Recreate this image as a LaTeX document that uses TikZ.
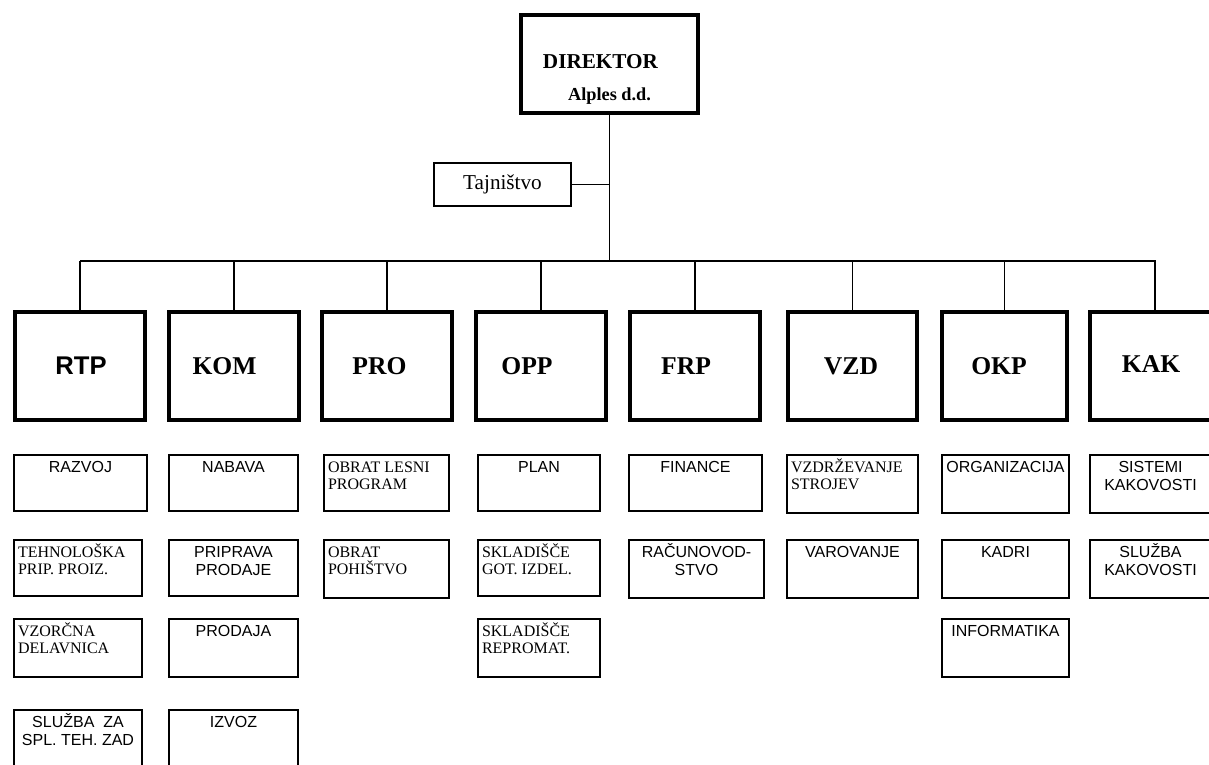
\documentclass[tikz,border=0pt]{standalone}
\usepackage{fontspec}
\setmainfont{Liberation Serif}
\setsansfont{Liberation Sans}
\newcommand{\lsans}{\sffamily\fontsize{16}{18.3}\selectfont\centering}
\newcommand{\lserif}{\rmfamily\fontsize{16}{17.7}\selectfont\raggedright\leftskip=4pt\relax}
\newcommand{\enota}[7]{%
  \node[enota] (#1) at (#2,#3)
    {\parbox[t][#5pt][t]{#4pt}{#6\rule{0pt}{17pt}#7}};}

\begin{document}
\begin{tikzpicture}[
    x = 1pt,
    y = -1pt,
    vodja/.style = {draw, line width=4pt, inner sep=0pt, outer sep=0pt,
              anchor=north west},
    tajnik/.style = {draw, line width=1.6pt, minimum width=137pt,
              minimum height=43pt, inner sep=0pt, outer sep=0pt,
              font=\rmfamily\fontsize{21.2}{25}\selectfont},
    sektor/.style = {draw, line width=4pt, minimum width=130pt,
              minimum height=108pt, inner sep=0pt, outer sep=0pt,
              anchor=north west, font=\bfseries\fontsize{25.6}{30}\selectfont},
    enota/.style = {draw, line width=1.6pt, inner sep=0pt, outer sep=0pt,
              anchor=north west},
    veza/.style = {line width=1.8pt},
    ]

\useasboundingbox (0,0) rectangle (1209,764);

% vodstvo
\node[vodja] (dir) at (521,15)
  {\parbox[t][98pt][t]{177pt}{\centering\bfseries\fontsize{21.2}{32}\selectfont
   \rule{0pt}{53pt}DIREKTOR\rule{18pt}{0pt}\\
   \fontsize{18.3}{32}\selectfont Alples d.d.}};
\node[tajnik] (tajn) at (502.5,184.5) {Tajništvo};

% sektorji
\node[sektor, font=\sffamily\bfseries\fontsize{25.6}{30}\selectfont] (rtp) at (15,312) {\hspace*{2pt}RTP};
\node[sektor] (kom) at (169,312) {KOM\hspace*{19pt}};
\node[sektor] (pro) at (322,312) {PRO\hspace*{15pt}};
\node[sektor] (opp) at (476,312) {OPP\hspace*{28pt}};
\node[sektor] (frp) at (630,312) {FRP\hspace*{18pt}};
\node[sektor, minimum width=129pt] (vzd) at (788,312) {VZD\hspace*{3pt}};
\node[sektor, minimum width=125pt] (okp) at (942,312) {\raisebox{-4pt}{OKP}\hspace*{11pt}};
\node[sektor] (kak) at (1090,312) {\raisebox{4pt}{KAK}\hspace*{8pt}};

% povezave
\coordinate (bus) at (609,261);
\draw[veza] (dir.south) -- (dir.south |- bus);
\draw[veza] (tajn.east) -- (tajn.east -| dir.south);
\draw[veza] (rtp.north |- bus) -- ([xshift=1pt]kak.north |- bus);
\foreach \s in {rtp,kom,pro,opp,frp,vzd,okp,kak}
  \draw[veza] (\s.north |- bus) -- (\s.north);

% enote RTP
\enota{razvoj}{14}{455}{133}{56}{\lsans}{RAZVOJ}
\enota{tehn}{14}{540}{128}{56}{\lserif}{TEHNOLOŠKA\\PRIP. PROIZ.}
\enota{vzorc}{14}{619}{128}{58}{\lserif}{VZORČNA\\DELAVNICA}
\enota{splteh}{14}{710}{128}{70}{\lsans}{SLUŽBA~~ZA\\SPL. TEH. ZAD}
% enote KOM
\enota{nabava}{169}{455}{129}{56}{\lsans}{NABAVA}
\enota{pripr}{169}{540}{129}{56}{\lsans}{PRIPRAVA\\PRODAJE}
\enota{prodaja}{169}{619}{129}{58}{\lsans}{PRODAJA}
\enota{izvoz}{169}{710}{129}{70}{\lsans}{IZVOZ}
% enote PRO
\enota{lesni}{324}{455}{125}{56}{\lserif}{OBRAT LESNI\\PROGRAM}
\enota{pohis}{324}{540}{125}{58}{\lserif}{OBRAT\\POHIŠTVO}
% enote OPP
\enota{plan}{478}{455}{122}{56}{\lsans}{PLAN}
\enota{gotizd}{478}{540}{122}{56}{\lserif}{SKLADIŠČE\\GOT. IZDEL.}
\enota{repro}{478}{619}{122}{58}{\lserif}{SKLADIŠČE\\REPROMAT.}
% enote FRP
\enota{finance}{629}{455}{133}{56}{\lsans}{FINANCE}
\enota{racun}{629}{540}{135}{58}{\lsans}{RAČUNOVOD-\\STVO}
% enote VZD
\enota{vzdrz}{787}{455}{131}{58}{\lserif}{VZDRŽEVANJE\\STROJEV}
\enota{varov}{787}{540}{131}{58}{\lsans}{VAROVANJE}
% enote OKP
\enota{organiz}{942}{455}{127}{58}{\lsans}{ORGANIZACIJA}
\enota{kadri}{942}{540}{127}{58}{\lsans}{KADRI}
\enota{inform}{942}{619}{127}{58}{\lsans}{INFORMATIKA}
% enote KAK
\enota{sistemi}{1090}{455}{121}{58}{\lsans}{SISTEMI\\KAKOVOSTI}
\enota{sluzba}{1090}{540}{121}{58}{\lsans}{SLUŽBA\\KAKOVOSTI}

\end{tikzpicture}
\end{document}
